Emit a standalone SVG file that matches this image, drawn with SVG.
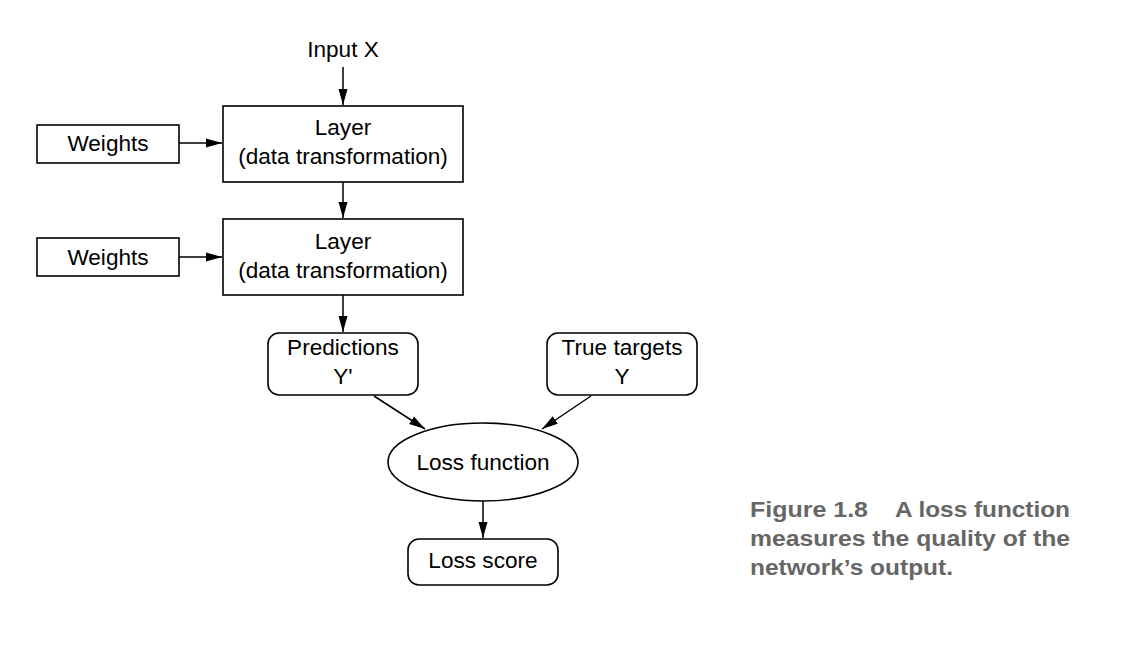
<svg xmlns="http://www.w3.org/2000/svg" width="1126" height="652" viewBox="0 0 1126 652">
<style>
.box{fill:#fff;stroke:#000;stroke-width:1.6}
.t{font-family:"Liberation Sans",Arial,sans-serif;font-size:22.6px;fill:#000;text-anchor:middle}
.e{stroke:#000;stroke-width:1.5;fill:none;marker-end:url(#ah)}
.cap{font-family:"Liberation Sans",Arial,sans-serif;font-weight:bold;font-size:22.5px;fill:#666}
</style>
<defs>
<marker id="ah" markerUnits="userSpaceOnUse" markerWidth="17" markerHeight="10" refX="16" refY="5" orient="auto">
<path d="M0,0.5 L16,5 L0,9.5 Z" fill="#000"/>
</marker>
</defs>
<rect width="1126" height="652" fill="#fff"/>
<g id="connectors">
<line class="e" x1="343" y1="67" x2="343" y2="105"/>
<line class="e" x1="179" y1="143" x2="222" y2="143"/>
<line class="e" x1="343" y1="182" x2="343" y2="218"/>
<line class="e" x1="179" y1="257" x2="222" y2="257"/>
<line class="e" x1="343" y1="295" x2="343" y2="332"/>
<line class="e" x1="374" y1="396" x2="425" y2="429"/>
<line class="e" x1="591" y1="396" x2="542" y2="429"/>
<line class="e" x1="483" y1="501" x2="483" y2="538"/>
</g>
<g id="input">
<text class="t" x="343" y="57">Input X</text>
</g>
<g id="weights1">
<rect class="box" x="37" y="125" width="142" height="38"/>
<text class="t" x="108" y="151">Weights</text>
</g>
<g id="layer1">
<rect class="box" x="223" y="106" width="240" height="76"/>
<text class="t" x="343" y="135">Layer</text>
<text class="t" x="343" y="164">(data transformation)</text>
</g>
<g id="weights2">
<rect class="box" x="37" y="238" width="142" height="38"/>
<text class="t" x="108" y="265">Weights</text>
</g>
<g id="layer2">
<rect class="box" x="223" y="219" width="240" height="76"/>
<text class="t" x="343" y="249">Layer</text>
<text class="t" x="343" y="278">(data transformation)</text>
</g>
<g id="predictions">
<rect class="box" x="268" y="333" width="150" height="62" rx="11"/>
<text class="t" x="343" y="355">Predictions</text>
<text class="t" x="343" y="384">Y'</text>
</g>
<g id="targets">
<rect class="box" x="547" y="333" width="150" height="62" rx="11"/>
<text class="t" x="622" y="355">True targets</text>
<text class="t" x="622" y="384">Y</text>
</g>
<g id="loss-function">
<ellipse class="box" cx="483" cy="462" rx="95" ry="39"/>
<text class="t" x="483" y="470">Loss function</text>
</g>
<g id="loss-score">
<rect class="box" x="408" y="539" width="150" height="46" rx="11"/>
<text class="t" x="483" y="568">Loss score</text>
</g>
<g id="caption">
<text class="cap" x="750" y="517" textLength="118" lengthAdjust="spacingAndGlyphs">Figure 1.8</text>
<text class="cap" x="895" y="517" textLength="175" lengthAdjust="spacingAndGlyphs">A loss function</text>
<text class="cap" x="750" y="546" textLength="320" lengthAdjust="spacingAndGlyphs">measures the quality of the</text>
<text class="cap" x="750" y="575" textLength="203" lengthAdjust="spacingAndGlyphs">network’s output.</text>
</g>
</svg>
